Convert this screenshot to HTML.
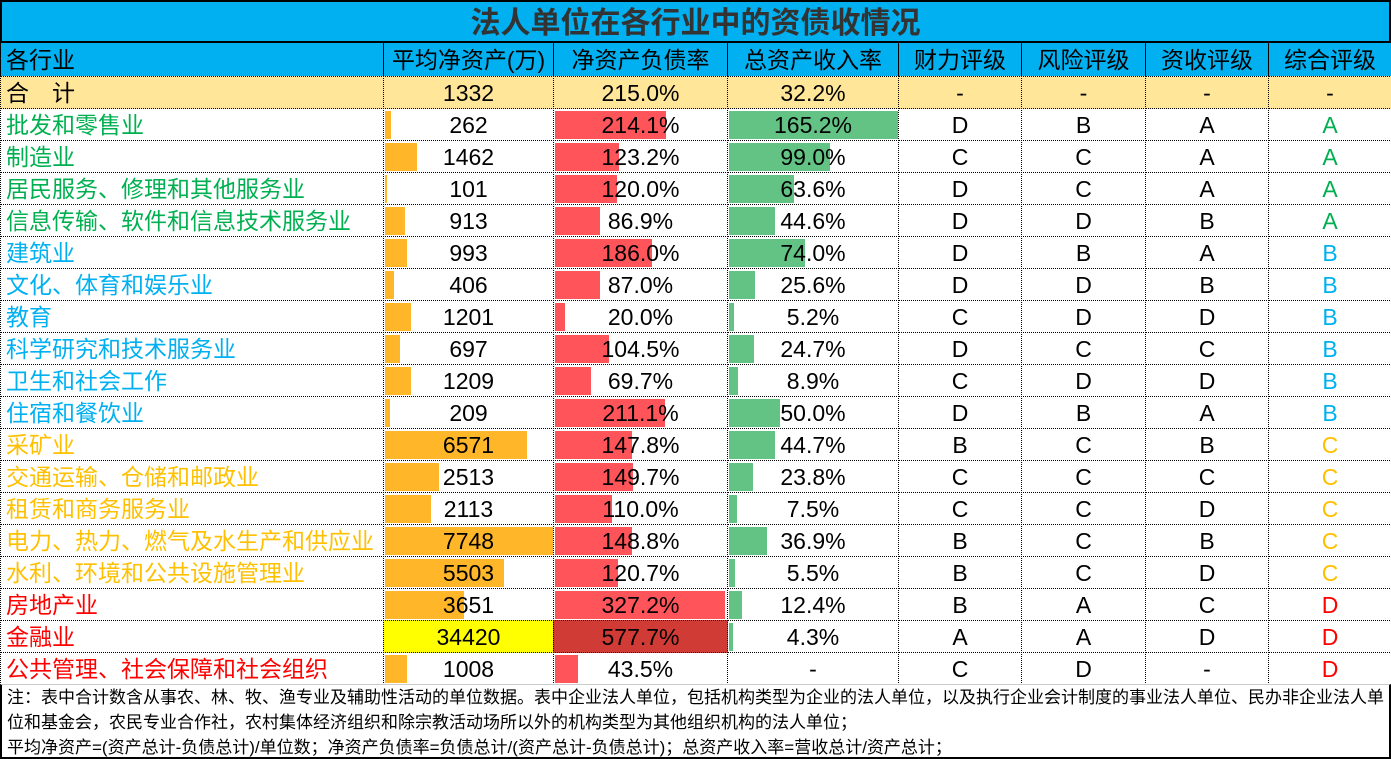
<!DOCTYPE html>
<html><head><meta charset="utf-8">
<style>
body{margin:0;width:1391px;height:759px;overflow:hidden;background:#fff;font-family:"Liberation Sans","Noto Sans CJK SC",sans-serif;}
#wrap{position:relative;width:1391px;height:759px;background:#fff;}
.c{position:absolute;box-sizing:border-box;font-size:23px;line-height:32px;white-space:nowrap;overflow:visible;}
.bar{position:absolute;}
</style></head><body>
<div id="wrap"></div>
<script>
const industries=["批发和零售业","制造业","居民服务、修理和其他服务业","信息传输、软件和信息技术服务业","建筑业","文化、体育和娱乐业","教育","科学研究和技术服务业","卫生和社会工作","住宿和餐饮业","采矿业","交通运输、仓储和邮政业","租赁和商务服务业","电力、热力、燃气及水生产和供应业","水利、环境和公共设施管理业","房地产业","金融业","公共管理、社会保障和社会组织"];
const netAssets=[262,1462,101,913,993,406,1201,697,1209,209,6571,2513,2113,7748,5503,3651,34420,1008];
const debtRatio=[214.1,123.2,120.0,86.9,186.0,87.0,20.0,104.5,69.7,211.1,147.8,149.7,110.0,148.8,120.7,327.2,577.7,43.5];
const revRatio=[165.2,99.0,63.6,44.6,74.0,25.6,5.2,24.7,8.9,50.0,44.7,23.8,7.5,36.9,5.5,12.4,4.3,null];
const finGrade=["D","C","D","D","D","D","C","D","C","D","B","C","C","B","B","B","A","C"];
const riskGrade=["B","C","C","D","B","D","D","C","D","B","C","C","C","C","C","A","A","D"];
const revGrade=["A","A","A","B","A","B","D","C","D","A","B","C","D","B","D","C","D","-"];
const overall=["A","A","A","A","B","B","B","B","B","B","C","C","C","C","C","D","D","D"];
const headers=["各行业","平均净资产(万)","净资产负债率","总资产收入率","财力评级","风险评级","资收评级","综合评级"];
const totals=["合　计","1332","215.0%","32.2%","-","-","-","-"];

const W=document.getElementById('wrap');
const cols=[0,383,553,727,898,1021,1145,1268,1391];
const gradeColor={A:"#00B050",B:"#00B0F0",C:"#FFC000",D:"#FF0000"};
function cell(x,y,w,h,text,opts){
  const d=document.createElement('div');d.className='c';
  d.style.left=x+'px';d.style.top=y+'px';d.style.width=w+'px';d.style.height=h+'px';
  d.style.lineHeight=h+'px';
  if(opts.bg)d.style.background=opts.bg;
  d.style.textAlign=opts.align||'center';
  if(opts.align==='left')d.style.paddingLeft='5px';
  if(opts.color)d.style.color=opts.color;
  if(opts.border)d.style.border=opts.border;
  if(opts.fs)d.style.fontSize=opts.fs;
  if(opts.fw)d.style.fontWeight=opts.fw;
  const s=document.createElement('span');s.textContent=text;s.style.position='relative';
  d.appendChild(s);
  W.appendChild(d);return d;
}
const t=cell(0,0,1391,43,"法人单位在各行业中的资债收情况",{bg:"#00B0F0",color:"#333",fs:"30px",fw:"bold",border:"2px solid #000"});

for(let i=0;i<8;i++){
  const h=cell(cols[i],42,cols[i+1]-cols[i]+1,35,headers[i],{bg:"#00B0F0",align:i===0?'left':'center',border:"1.5px solid #000"});
  
}
for(let i=0;i<8;i++){
  const h=cell(cols[i],76,cols[i+1]-cols[i]+1,33,totals[i],{bg:"#FFE699",align:i===0?'left':'center',border:"1px dotted #000"});
  
}
const maxNA=7748,maxDR=327.2,maxRR=165.2;
function xs(v,max,w){return Math.max(0,Math.min(1,v/max))*w;}
for(let r=0;r<industries.length;r++){
  const y=108+r*32;
  const col=gradeColor[overall[r]];
  const n=cell(cols[0],y,cols[1]-cols[0]+1,33,industries[r],{align:'left',color:col,border:"1px dotted #000"});
  
  const c1=cell(cols[1],y,cols[2]-cols[1]+1,33,String(netAssets[r]),{border:"1px dotted #000",bg:netAssets[r]>maxNA?"#FFFF00":null});
  
  if(netAssets[r]<=maxNA){const b=document.createElement('div');b.className='bar';
    
    
    b.style.cssText='left:1px;top:2px;height:28px;background:#FFB628;width:'+xs(netAssets[r],maxNA,168)+'px';c1.insertBefore(b,c1.firstChild);}
  const c2=cell(cols[2],y,cols[3]-cols[2]+1,33,debtRatio[r].toFixed(1)+'%',{border:"1px dotted #000",bg:debtRatio[r]>maxDR?"#D13B35":null});
  
  if(debtRatio[r]<=maxDR){const b=document.createElement('div');b.className='bar';
    
    
    b.style.cssText='left:1px;top:2px;height:28px;background:#FF555A;width:'+xs(debtRatio[r],maxDR,170)+'px';c2.insertBefore(b,c2.firstChild);}
  const rv=revRatio[r];
  const c3=cell(cols[3],y,cols[4]-cols[3]+1,33,rv===null?'-':rv.toFixed(1)+'%',{border:"1px dotted #000"});
  
  if(rv!==null){const b=document.createElement('div');b.className='bar';
    
    
    b.style.cssText='left:1px;top:2px;height:28px;background:#63C384;width:'+xs(rv,maxRR,169)+'px';c3.insertBefore(b,c3.firstChild);}
  const g=[finGrade[r],riskGrade[r],revGrade[r],overall[r]];
  const gn=['financial-grade','risk-grade','revenue-grade','overall-grade'];
  for(let k=0;k<4;k++){
    const gc=cell(cols[4+k],y,cols[5+k]-cols[4+k]+1,33,g[k],{border:"1px dotted #000",color:k===3?col:"#000"});
    
  }
}
const notes=["注：表中合计数含从事农、林、牧、渔专业及辅助性活动的单位数据。表中企业法人单位，包括机构类型为企业的法人单位，以及执行企业会计制度的事业法人单位、民办非企业法人单","位和基金会，农民专业合作社，农村集体经济组织和除宗教活动场所以外的机构类型为其他组织机构的法人单位；","平均净资产=(资产总计-负债总计)/单位数；净资产负债率=负债总计/(资产总计-负债总计)；总资产收入率=营收总计/资产总计；"];
const f=document.createElement('div');


f.style.cssText='position:absolute;left:0;top:684px;width:1391px;height:75px;box-sizing:border-box;border:2px solid #000;border-top:1px solid #ccc;padding:0 0 0 5px;font-size:17px;line-height:25px;white-space:nowrap;overflow:hidden;';
f.innerHTML=notes.join('<br>');
W.appendChild(f);
</script>
</body></html>
